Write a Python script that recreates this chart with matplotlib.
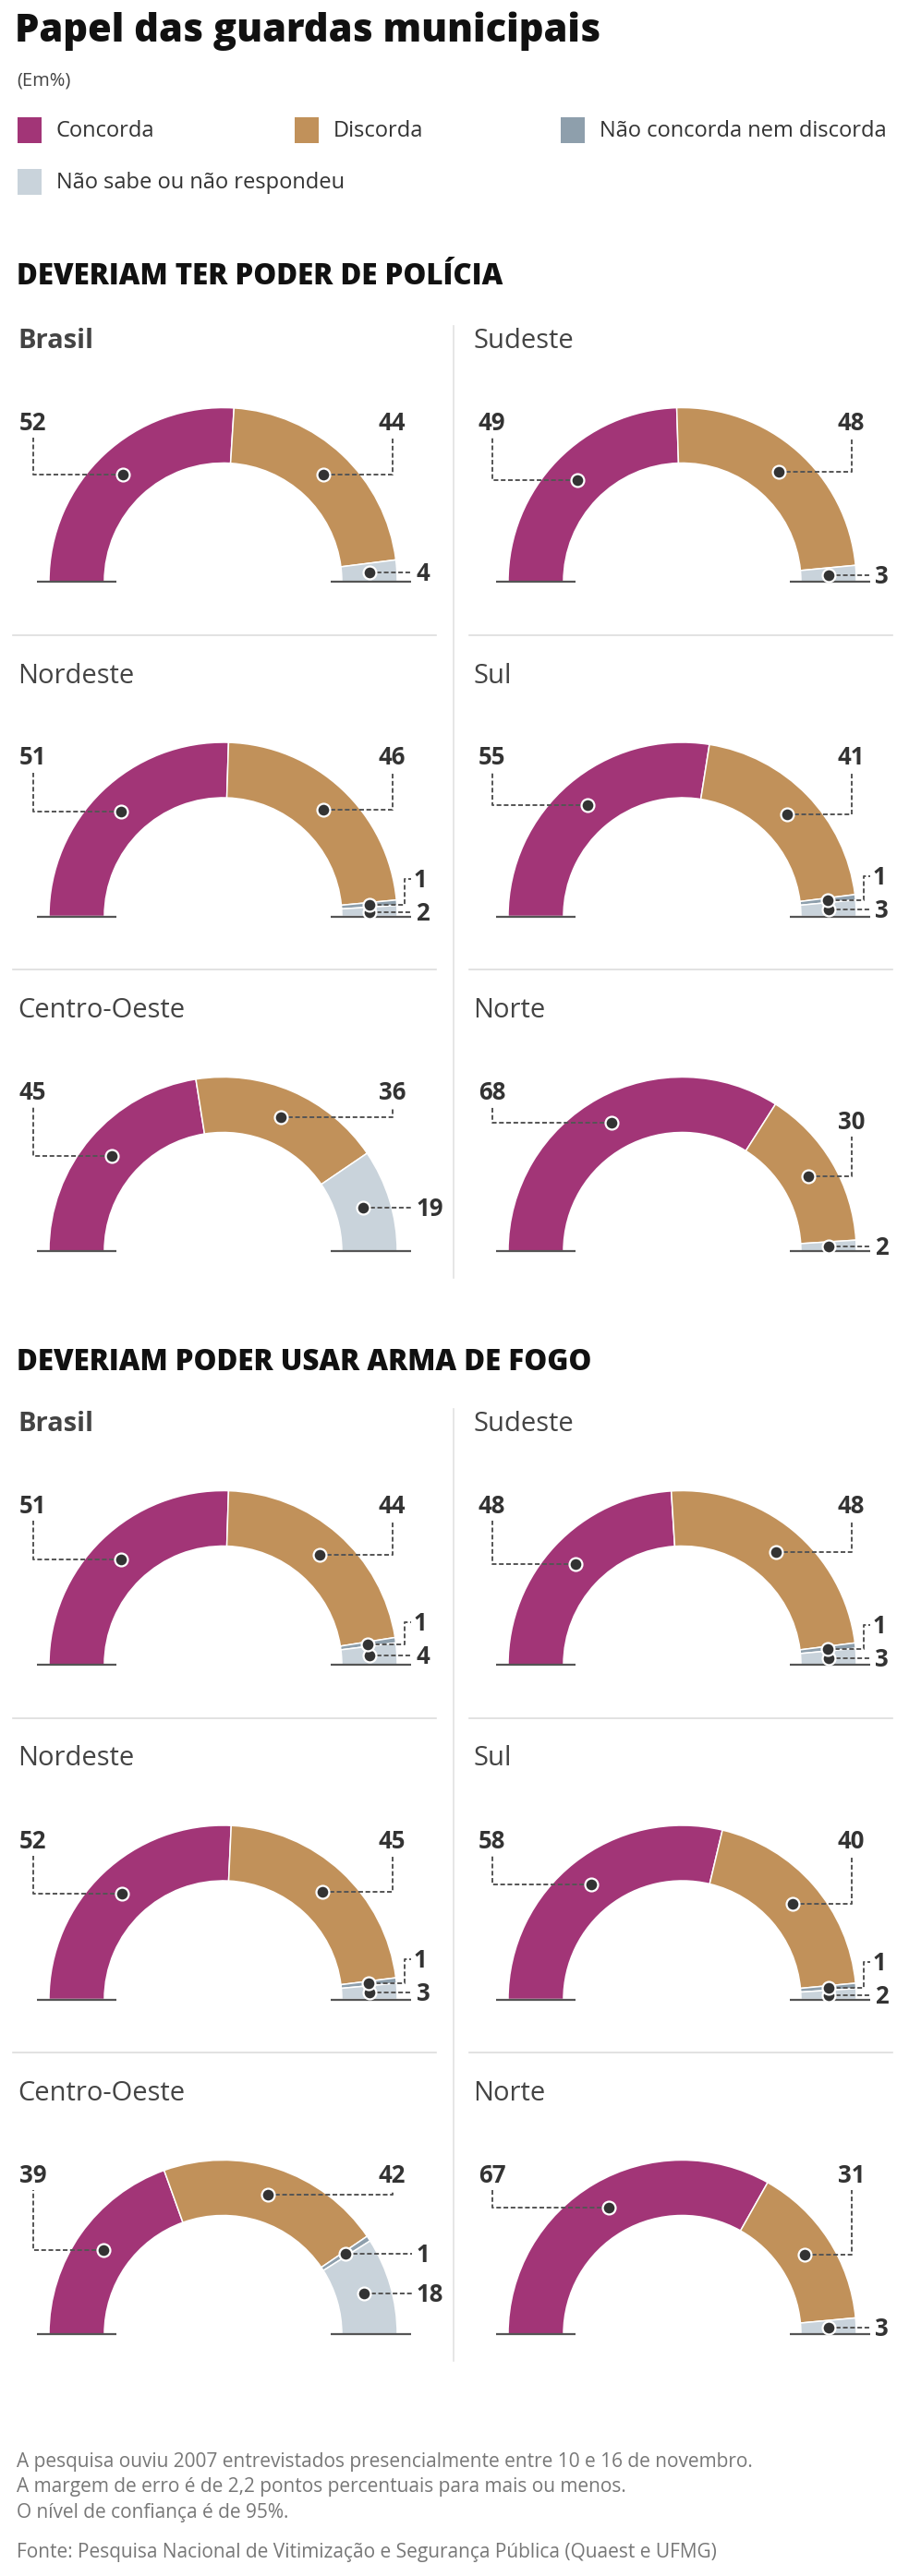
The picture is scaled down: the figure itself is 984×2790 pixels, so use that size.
import numpy as np
import matplotlib
matplotlib.use("Agg")
import matplotlib.pyplot as plt
from matplotlib.patches import Wedge, Rectangle

plt.rcParams["font.family"] = ["Open Sans", "DejaVu Sans"]

# ---------------- data ----------------
categories = ["Concorda", "Discorda", "Não concorda nem discorda", "Não sabe ou não respondeu"]
colors = ["#a23577", "#c1915a", "#8e9fac", "#c9d3db"]
regions = ["Brasil", "Sudeste", "Nordeste", "Sul", "Centro-Oeste", "Norte"]

policia_concorda = [52, 49, 51, 55, 45, 68]
policia_discorda = [44, 48, 46, 41, 36, 30]
policia_nem = [0, 0, 1, 1, 0, 0]
policia_nao_sabe = [4, 3, 2, 3, 19, 2]

arma_concorda = [51, 48, 52, 58, 39, 67]
arma_discorda = [44, 48, 45, 40, 42, 31]
arma_nem = [1, 1, 1, 1, 1, 0]
arma_nao_sabe = [4, 3, 3, 2, 18, 3]

section_titles = ["DEVERIAM TER PODER DE POLÍCIA", "DEVERIAM PODER USAR ARMA DE FOGO"]
sections = [
    (policia_concorda, policia_discorda, policia_nem, policia_nao_sabe),
    (arma_concorda, arma_discorda, arma_nem, arma_nao_sabe),
]

title = "Papel das guardas municipais"
subtitle = "(Em%)"
footer_notes = [
    "A pesquisa ouviu 2007 entrevistados presencialmente entre 10 e 16 de novembro.",
    "A margem de erro é de 2,2 pontos percentuais para mais ou menos.",
    "O nível de confiança é de 95%.",
]
source = "Fonte: Pesquisa Nacional de Vitimização e Segurança Pública (Quaest e UFMG)"

# ---------------- layout ----------------
W, H = 984, 2790
R_OUT, R_IN = 188.5, 128.5
R_MID = (R_OUT + R_IN) / 2
COL_CX = [241.5, 738.5]
COL_TX = [19, 512]
SECTION_LABEL_Y = [367, 1540]
SECTION_HEAD_Y = [297, 1473]
ROW_STEP = 362.5
DASH = dict(color="#555555", lw=1.4, ls=(0, (2.6, 1.4)), zorder=4, solid_capstyle="butt")
DARK = "#333333"
NUM_FS = 18.5

fig = plt.figure(figsize=(W / 100, H / 100), dpi=100)
ax = fig.add_axes([0, 0, 1, 1])
ax.set_xlim(0, W)
ax.set_ylim(H, 0)
ax.axis("off")


def draw_dot(x, y):
    ax.plot([x], [y], marker="o", ms=10, mfc=DARK, mec="white", mew=1.6, zorder=6)


def draw_gauge(cx, base, vals):
    total = float(sum(vals))
    phi = 180.0
    dots = []
    for i, v in enumerate(vals):
        if v == 0:
            dots.append(None)
            continue
        span = v / total * 180.0
        p0, p1 = phi, phi - span
        ax.add_patch(Wedge((cx, base), R_OUT, -p0, -p1, width=R_OUT - R_IN,
                           facecolor=colors[i], edgecolor="white", lw=1.1, zorder=2))
        mid = np.radians((p0 + p1) / 2)
        dots.append((cx + R_MID * np.cos(mid), base - R_MID * np.sin(mid)))
        phi = p1

    # base lines
    ax.plot([cx - 202, cx - 116], [base, base], color="#555555", lw=1.6, zorder=3,
            solid_capstyle="butt")
    ax.plot([cx + 116, cx + 203], [base, base], color="#555555", lw=1.6, zorder=3,
            solid_capstyle="butt")

    # labels on top (Concorda left, Discorda right)
    for i, lx in ((0, cx - 206), (1, cx + 183)):
        d = dots[i]
        if d is None:
            continue
        if base - d[1] >= 85:
            ly = base - 173
        else:
            ly = d[1] - 60
        ax.plot([d[0], lx, lx], [d[1], d[1], ly + 17], **DASH)
        draw_dot(*d)
        ax.text(lx, ly + 9, f"{vals[i]}", ha="center", va="baseline", fontsize=NUM_FS,
                weight="bold", color=DARK, zorder=7)

    # labels on the right (small segments)
    ns = dots[3]
    nc = dots[2]
    if ns is not None:
        ly = ns[1]
        ax.plot([ns[0], cx + 204], [ly, ly], **DASH)
        draw_dot(*ns)
        ax.text(cx + 209, ly + 9, f"{vals[3]}", ha="left", va="baseline", fontsize=NUM_FS,
                weight="bold", color=DARK, zorder=7)
    if nc is not None:
        ly = nc[1]
        if ns is not None and ns[1] - nc[1] < 28:
            ly = ns[1] - 36
            ax.plot([nc[0], cx + 196, cx + 196, cx + 203], [nc[1], nc[1], ly, ly], **DASH)
            tx = cx + 206
        else:
            ax.plot([nc[0], cx + 204], [ly, ly], **DASH)
            tx = cx + 209
        draw_dot(*nc)
        ax.text(tx, ly + 9, f"{vals[2]}", ha="left", va="baseline", fontsize=NUM_FS,
                weight="bold", color=DARK, zorder=7)


# ---------------- header ----------------
ax.text(16, 45, title, fontsize=30, weight="heavy", color="#111111", va="baseline")
ax.text(18, 93, subtitle, fontsize=14.5, color="#444444", va="baseline")

legend_pos = [(19, 141), (319, 141), (607, 141), (19, 197)]
for (lx, ly), lab, col in zip(legend_pos, categories, colors):
    ax.add_patch(Rectangle((lx, ly - 14), 26, 28, facecolor=col, edgecolor="none"))
    ax.text(lx + 42, ly + 7, lab, fontsize=17, color="#333333", va="baseline")

# ---------------- sections ----------------
for s, (conc, disc, nem, nsab) in enumerate(sections):
    ax.text(18, SECTION_HEAD_Y[s] + 11, section_titles[s], fontsize=22.5, weight="heavy",
            color="#111111", va="baseline")
    y0 = SECTION_LABEL_Y[s]
    # vertical divider
    ax.plot([491, 491], [y0 - 14, y0 + 2 * ROW_STEP + 263 + 29], color="#e2e2e2", lw=1.2,
            zorder=1)
    for k, reg in enumerate(regions):
        row, col = divmod(k, 2)
        ly = y0 + row * ROW_STEP
        base = ly + 263
        if row > 0:
            xs = (14, 472) if col == 0 else (508, 966)
            ax.plot(xs, [ly - 42, ly - 42], color="#dddddd", lw=1.2, zorder=1)
        ax.text(COL_TX[col], ly + 10, reg, fontsize=21, color="#444444", va="baseline",
                weight="bold" if reg == "Brasil" else "normal")
        vals = [conc[k], disc[k], nem[k], nsab[k]]
        draw_gauge(COL_CX[col], base, vals)

# ---------------- footer ----------------
for i, line in enumerate(footer_notes):
    ax.text(18, 2672 + i * 27.5, line, fontsize=15, color="#777777", va="baseline")
ax.text(18, 2770, source, fontsize=15, color="#777777", va="baseline")

fig.savefig("out.png", dpi=100, facecolor="white")
